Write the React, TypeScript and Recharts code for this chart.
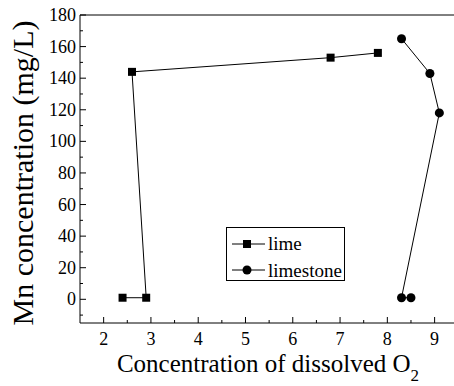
import { ScatterChart, Scatter, XAxis, YAxis, ZAxis, Legend, Label } from 'recharts';

// Mn concentration vs dissolved O2
const limeO2 = [2.4, 2.9, 2.6, 6.8, 7.8];
const limeMn = [1, 1, 144, 153, 156];
const limestoneO2 = [8.3, 8.9, 9.1, 8.3, 8.5];
const limestoneMn = [165, 143, 118, 1, 1];

const xTicks = [2, 2.5, 3, 3.5, 4, 4.5, 5, 5.5, 6, 6.5, 7, 7.5, 8, 8.5, 9];
const yTicks = [-10, 0, 10, 20, 30, 40, 50, 60, 70, 80, 90, 100, 110, 120, 130, 140, 150, 160, 170, 180];

const lime = limeO2.map((x, i) => ({ x, y: limeMn[i] }));
const limestone = limestoneO2.map((x, i) => ({ x, y: limestoneMn[i] }));

const FONT = '"Liberation Serif", "Times New Roman", serif';
const serif = (size: number) => ({ fontFamily: FONT, fontSize: size });

const BottomTick = (props: any) => {
  const { x, y, payload } = props;
  const major = Number.isInteger(payload.value);
  return (
    <g>
      <line x1={x} x2={x} y1={y} y2={y - (major ? 6 : 3)} stroke="#000" />
      {major && (
        <text x={x} y={y + 22} textAnchor="middle" style={serif(18)} fill="#000">
          {payload.value}
        </text>
      )}
    </g>
  );
};

const TopTick = (props: any) => {
  const { x, y } = props;
  return <line x1={x} x2={x} y1={y} y2={y + 3} stroke="#000" />;
};

const LeftTick = (props: any) => {
  const { x, y, payload } = props;
  const major = payload.value % 20 === 0;
  return (
    <g>
      <line x1={x} x2={x + (major ? 6 : 3)} y1={y} y2={y} stroke="#000" />
      {major && (
        <text x={x - 4} y={y + 6} textAnchor="end" style={serif(18)} fill="#000">
          {payload.value}
        </text>
      )}
    </g>
  );
};

const LegendBox = () => (
  <svg width={120} height={55} style={{ display: 'block' }}>
    <rect x={0.5} y={0.5} width={118} height={53} fill="#fff" stroke="#000" />
    <line x1={6} x2={39} y1={17} y2={17} stroke="#000" />
    <rect x={17} y={13} width={8} height={8} fill="#000" />
    <text x={42} y={23} style={serif(19)} fill="#000">lime</text>
    <line x1={6} x2={39} y1={43} y2={43} stroke="#000" />
    <circle cx={21} cy={43} r={4.5} fill="#000" />
    <text x={42} y={50} style={serif(19)} fill="#000">limestone</text>
  </svg>
);

export default function App() {
  return (
    <div style={{ position: 'absolute', left: 0, top: 0, background: '#fff', fontFamily: FONT }}>
      <ScatterChart width={454} height={386} margin={{ top: 0, right: 0, bottom: 0, left: 0 }}>
        <XAxis
          dataKey="x"
          type="number"
          domain={[1.5, 9.41]}
          allowDataOverflow
          ticks={xTicks}
          interval={0}
          height={63}
          stroke="#000"
          tickLine={false}
          tickSize={0}
          tickMargin={0}
          tick={<BottomTick />}
        >
          <Label
            content={() => (
              <text x={268} y={372} textAnchor="middle" style={serif(25)} fill="#000">
                Concentration of dissolved O
                <tspan dy={9} style={serif(17)}>2</tspan>
              </text>
            )}
          />
        </XAxis>
        <XAxis
          xAxisId="top"
          orientation="top"
          type="number"
          domain={[1.5, 9.41]}
          allowDataOverflow
          ticks={xTicks}
          interval={0}
          height={15}
          stroke="#000"
          tickLine={false}
          tickSize={0}
          tickMargin={0}
          tick={<TopTick />}
        />
        <YAxis
          dataKey="y"
          type="number"
          domain={[-15, 180]}
          allowDataOverflow
          ticks={yTicks}
          interval={0}
          width={80}
          stroke="#000"
          tickLine={false}
          tickSize={0}
          tickMargin={0}
          tick={<LeftTick />}
        >
          <Label
            content={() => (
              <text
                x={33}
                y={173}
                transform="rotate(-90 33 173)"
                textAnchor="middle"
                style={serif(30)}
                fill="#000"
              >
                Mn concentration (mg/L)
              </text>
            )}
          />
        </YAxis>
        <ZAxis range={[80, 80]} />
        <Legend
          layout="vertical"
          align="center"
          verticalAlign="middle"
          wrapperStyle={{ position: 'absolute', left: 226, top: 227, width: 120, height: 55 }}
          content={<LegendBox />}
        />
        <Scatter
          name="lime"
          data={lime}
          shape="square"
          fill="#000"
          line={{ stroke: '#000', strokeWidth: 1 }}
          isAnimationActive={false}
        />
        <Scatter
          name="limestone"
          data={limestone}
          shape="circle"
          fill="#000"
          line={{ stroke: '#000', strokeWidth: 1 }}
          isAnimationActive={false}
        />
      </ScatterChart>
    </div>
  );
}
